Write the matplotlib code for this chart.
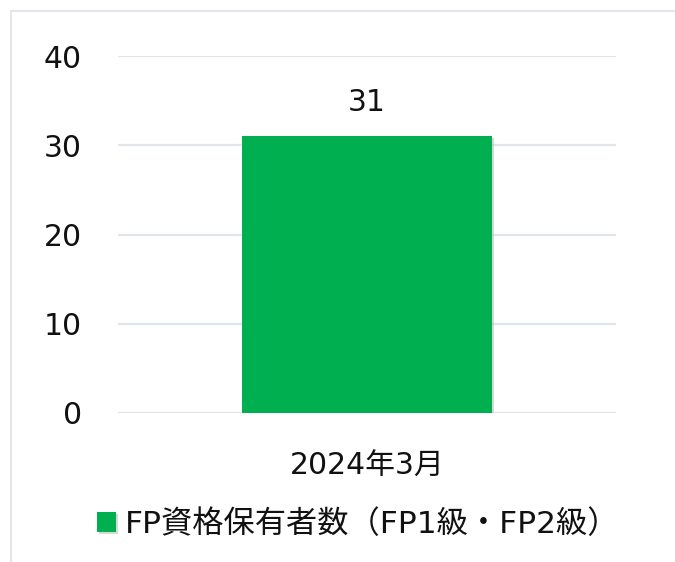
import matplotlib
matplotlib.use("Agg")
import matplotlib.pyplot as plt
from matplotlib.patches import Rectangle
import matplotlib.patheffects as pe

plt.rcParams['font.family'] = ['DejaVu Sans', 'Noto Sans CJK JP']

categories = ["2024年3月"]
values = [31]
series_name = "FP資格保有者数（FP1級・FP2級）"
yticks = [0, 10, 20, 30, 40]

W, H = 675, 562
fig = plt.figure(figsize=(W / 100, H / 100), dpi=100)
fig.patch.set_facecolor("white")

# outer frame (top and left visible)
fig.add_artist(Rectangle((11 / W, -0.05), 1.2, (H - 11) / H + 0.05, transform=fig.transFigure,
                         facecolor="none", edgecolor="#E3E6EB", linewidth=1.5))

ax = fig.add_axes([118 / W, (H - 413) / H, (616 - 118) / W, (413 - 56) / H])
green = "#00B050"
bars = ax.bar(range(len(categories)), values, width=0.502, color=green, zorder=3,
              path_effects=[pe.SimplePatchShadow(offset=(1.5, -1.5), shadow_rgbFace="#B0B0B0", alpha=0.5),
                            pe.Normal()],
              label=series_name)
ax.set_xlim(-0.5, 0.5)
ax.set_ylim(0, 40)
ax.set_yticks(yticks)
ax.set_xticks(range(len(categories)))
ax.set_xticklabels(categories)
ax.tick_params(axis="y", length=0, pad=26, labelsize=21.5, labelcolor="#111111")
ax.tick_params(axis="x", length=0, pad=28, labelsize=21.5, labelcolor="#111111")
ax.grid(axis="y", color="#E1E5EB", linewidth=1.6, zorder=0)
for s in ax.spines.values():
    s.set_visible(False)

for i, v in enumerate(values):
    ax.annotate(str(v), (i, v), xytext=(0, 14), textcoords="offset points",
                ha="center", va="bottom", fontsize=21.5, color="#111111")

leg = fig.legend(handles=[bars], labels=[series_name], loc="center",
                 bbox_to_anchor=(358 / W, (H - 524) / H), frameon=False,
                 fontsize=22.5, handlelength=0.6, handleheight=0.6, handletextpad=0.28)
for t in leg.get_texts():
    t.set_color("#111111")

fig.savefig("out.png", dpi=100, facecolor="white")
